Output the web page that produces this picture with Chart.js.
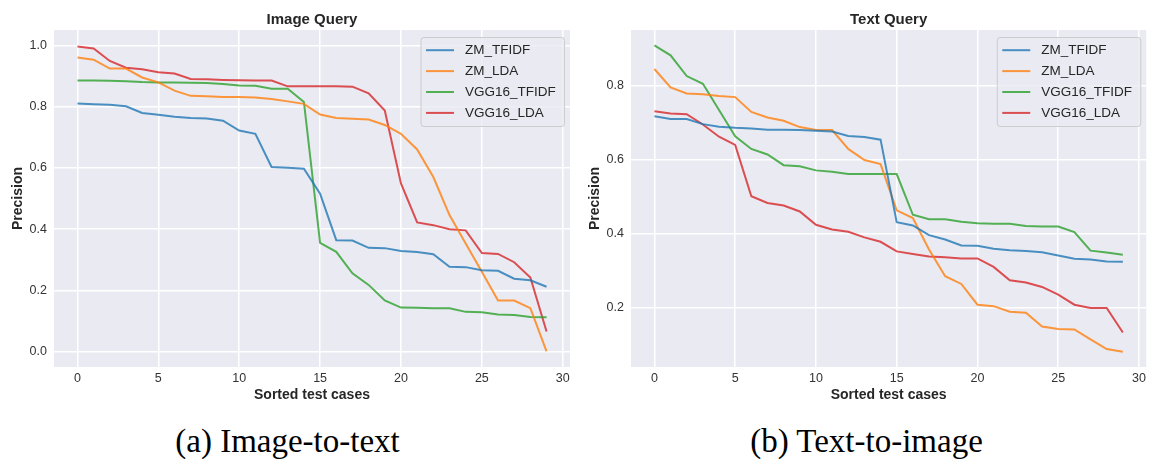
<!DOCTYPE html>
<html>
<head>
<meta charset="utf-8">
<script src="https://cdn.jsdelivr.net/npm/chart.js@4.4.1/dist/chart.umd.min.js"></script>
<style>
  body { margin: 0; background: #fff; width: 1150px; height: 459px; position: relative; overflow: hidden; }
  .panel { position: absolute; top: 0; }
  .caption {
    position: absolute;
    top: 423px;
    text-align: center;
    font-family: "Liberation Serif", serif;
    font-size: 33px;
    line-height: 36px;
    color: #000;
  }
</style>
</head>
<body>
<div class="panel" style="left:0px"><canvas id="image-chart" width="575" height="410"></canvas></div>
<div class="panel" style="left:577px"><canvas id="text-chart" width="573" height="410"></canvas></div>
<div class="caption" style="left:0px;width:575px">(a) Image-to-text</div>
<div class="caption" style="left:580px;width:573px">(b) Text-to-image</div>

<script>
// DATA
const cases = [0, 1, 2, 3, 4, 5, 6, 7, 8, 9, 10, 11, 12, 13, 14, 15, 16, 17, 18, 19, 20, 21, 22, 23, 24, 25, 26, 27, 28, 29];
const seriesNames = ["ZM_TFIDF", "ZM_LDA", "VGG16_TFIDF", "VGG16_LDA"];
const xTicks = [0, 5, 10, 15, 20, 25, 30];
const imageYTicks = [0.0, 0.2, 0.4, 0.6, 0.8, 1.0];
const textYTicks = [0.2, 0.4, 0.6, 0.8];

// Image Query
const imageZmTfidf = [0.81, 0.808, 0.806, 0.801, 0.779, 0.773, 0.767, 0.763, 0.761, 0.754, 0.722, 0.711, 0.603, 0.6, 0.597, 0.516, 0.364, 0.363, 0.339, 0.338, 0.329, 0.325, 0.318, 0.277, 0.276, 0.266, 0.264, 0.238, 0.233, 0.212];
const imageZmLda = [0.96, 0.953, 0.924, 0.924, 0.895, 0.879, 0.852, 0.835, 0.834, 0.831, 0.831, 0.83, 0.825, 0.817, 0.809, 0.774, 0.763, 0.76, 0.758, 0.74, 0.711, 0.66, 0.57, 0.446, 0.353, 0.261, 0.167, 0.167, 0.142, 0.001];
const imageVggTfidf = [0.885, 0.885, 0.884, 0.883, 0.88, 0.879, 0.879, 0.878, 0.877, 0.874, 0.869, 0.868, 0.858, 0.858, 0.815, 0.355, 0.326, 0.256, 0.218, 0.167, 0.144, 0.143, 0.142, 0.142, 0.13, 0.129, 0.121, 0.12, 0.113, 0.112];
const imageVggLda = [0.996, 0.99, 0.949, 0.927, 0.922, 0.912, 0.908, 0.89, 0.889, 0.887, 0.886, 0.885, 0.885, 0.866, 0.866, 0.866, 0.866, 0.865, 0.843, 0.787, 0.549, 0.422, 0.413, 0.4, 0.396, 0.322, 0.319, 0.292, 0.242, 0.066];

// Text Query
const textZmTfidf = [0.717, 0.71, 0.71, 0.696, 0.689, 0.686, 0.684, 0.681, 0.681, 0.68, 0.678, 0.676, 0.664, 0.661, 0.654, 0.431, 0.422, 0.396, 0.384, 0.368, 0.367, 0.359, 0.355, 0.353, 0.35, 0.341, 0.332, 0.33, 0.325, 0.324];
const textZmLda = [0.845, 0.795, 0.779, 0.777, 0.772, 0.769, 0.729, 0.714, 0.705, 0.688, 0.68, 0.68, 0.629, 0.599, 0.588, 0.463, 0.442, 0.357, 0.285, 0.264, 0.208, 0.204, 0.189, 0.186, 0.149, 0.142, 0.141, 0.114, 0.088, 0.081];
const textVggTfidf = [0.909, 0.882, 0.826, 0.805, 0.734, 0.663, 0.629, 0.614, 0.585, 0.582, 0.571, 0.567, 0.561, 0.561, 0.561, 0.561, 0.451, 0.439, 0.439, 0.432, 0.428, 0.427, 0.427, 0.421, 0.419, 0.419, 0.404, 0.354, 0.349, 0.343];
const textVggLda = [0.731, 0.725, 0.723, 0.695, 0.662, 0.64, 0.501, 0.483, 0.476, 0.46, 0.424, 0.411, 0.405, 0.39, 0.378, 0.352, 0.345, 0.338, 0.336, 0.333, 0.333, 0.31, 0.274, 0.268, 0.256, 0.235, 0.208, 0.199, 0.199, 0.133];

const lineColors = ["rgba(31,119,180,0.8)", "rgba(255,127,14,0.8)", "rgba(44,160,44,0.8)", "rgba(214,39,40,0.8)"];

// ФОН И ЛЕГЕНДА
const plotBackground = {
  id: "plotBackground",
  beforeDraw(chart) {
    const { ctx, chartArea } = chart;
    ctx.save();
    ctx.fillStyle = "#EAEAF2";
    ctx.fillRect(chartArea.left, chartArea.top, chartArea.right - chartArea.left, chartArea.bottom - chartArea.top);
    ctx.restore();
  },
};

const boxLegend = {
  id: "boxLegend",
  afterDatasetsDraw(chart) {
    const { ctx, chartArea } = chart;
    const w = 143.5;
    const h = 89;
    const left = chartArea.right - 5.5 - w;
    const top = chartArea.top + 7.5;
    ctx.save();
    ctx.beginPath();
    ctx.roundRect(left, top, w, h, 3);
    ctx.fillStyle = "rgba(234,234,242,0.8)";
    ctx.fill();
    ctx.strokeStyle = "#cccccc";
    ctx.lineWidth = 1;
    ctx.stroke();
    ctx.font = "13.5px 'Liberation Sans', Arial, sans-serif";
    ctx.textBaseline = "middle";
    ctx.fillStyle = "#262626";
    chart.data.datasets.forEach(function (ds, i) {
      const y = top + 12.7 + i * 20.9;
      ctx.beginPath();
      ctx.moveTo(left + 5, y);
      ctx.lineTo(left + 33, y);
      ctx.strokeStyle = ds.borderColor;
      ctx.lineWidth = 2;
      ctx.stroke();
      ctx.fillText(ds.label, left + 44, y);
    });
    ctx.restore();
  },
};

function makeChart(canvasId, titleText, series, yMin, yMax, yTicks, rightPad) {
  return new Chart(document.getElementById(canvasId), {
    type: "line",
    data: {
      datasets: series.map(function (values, i) {
        return {
          label: seriesNames[i],
          data: values.map(function (v, j) { return { x: cases[j], y: v }; }),
          borderColor: lineColors[i],
          backgroundColor: lineColors[i],
          borderWidth: 2,
          pointRadius: 0,
          tension: 0,
          fill: false,
        };
      }),
    },
    options: {
      responsive: false,
      animation: false,
      layout: { padding: { left: 0, right: rightPad, top: 0, bottom: 0 } },
      plugins: {
        legend: { display: false },
        tooltip: { enabled: false },
        title: {
          display: true,
          text: titleText,
          fullSize: false,
          color: "#262626",
          font: { family: "'Liberation Sans', Arial, sans-serif", size: 15, weight: "bold", lineHeight: 1.2 },
          padding: { top: 11, bottom: 1 },
        },
      },
      scales: {
        x: {
          type: "linear",
          min: -1.45,
          max: 30.45,
          afterFit(scale) { scale.height = 43; },
          afterBuildTicks(scale) { scale.ticks = xTicks.map(function (v) { return { value: v }; }); },
          grid: { color: "#ffffff", lineWidth: 1.5, drawTicks: false },
          border: { display: false },
          ticks: {
            padding: 4,
            color: "#333333",
            font: { family: "'Liberation Sans', Arial, sans-serif", size: 12.5 },
            callback: function (v) { return String(v); },
          },
          title: {
            display: true,
            text: "Sorted test cases",
            color: "#262626",
            font: { family: "'Liberation Sans', Arial, sans-serif", size: 14, weight: "bold", lineHeight: 1.2 },
            padding: { top: 0, bottom: 6.6 },
          },
        },
        y: {
          type: "linear",
          min: yMin,
          max: yMax,
          afterFit(scale) { scale.width = 54; },
          afterBuildTicks(scale) { scale.ticks = yTicks.map(function (v) { return { value: v }; }); },
          grid: { color: "#ffffff", lineWidth: 1.5, drawTicks: false },
          border: { display: false },
          ticks: {
            padding: 7,
            color: "#333333",
            font: { family: "'Liberation Sans', Arial, sans-serif", size: 12.5 },
            callback: function (v) { return Number(v).toFixed(1); },
          },
          title: {
            display: true,
            text: "Precision",
            color: "#262626",
            font: { family: "'Liberation Sans', Arial, sans-serif", size: 14, weight: "bold", lineHeight: 1.2 },
            padding: { top: 10, bottom: 0 },
          },
        },
      },
    },
    plugins: [plotBackground, boxLegend],
  });
}

// ГРАФИКИ
makeChart("image-chart", "Image Query", [imageZmTfidf, imageZmLda, imageVggTfidf, imageVggLda], -0.05, 1.05, imageYTicks, 5);
makeChart("text-chart", "Text Query", [textZmTfidf, textZmLda, textVggTfidf, textVggLda], 0.0396, 0.9504, textYTicks, 1);
</script>
</body>
</html>
